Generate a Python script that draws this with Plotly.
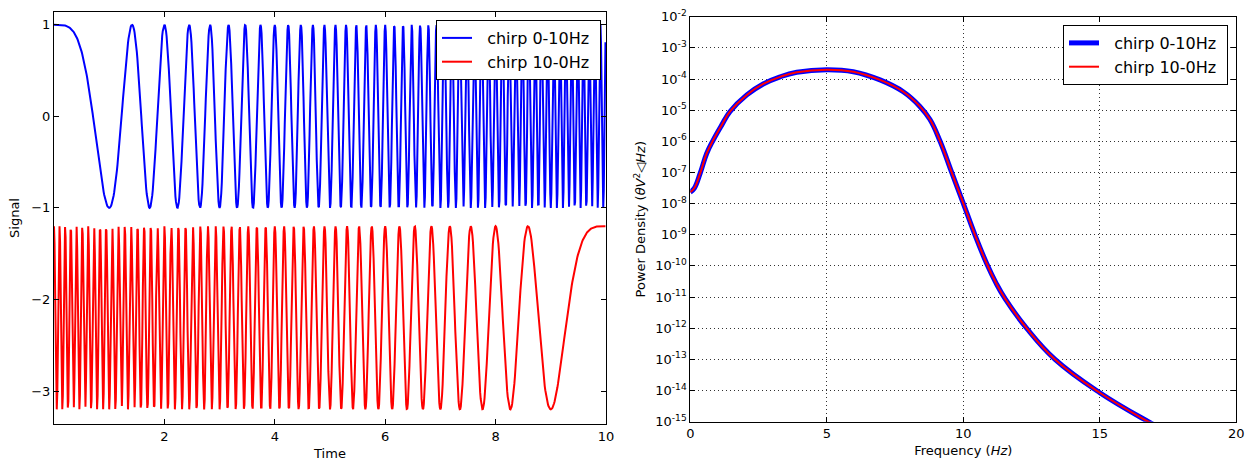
import numpy as np
import plotly.graph_objects as go

# ---------------- data ----------------
# Left panel: linear chirps (legend: 0-10 Hz and 10-0 Hz over 10 s)
sample_rate_hz = 100
duration_s = 10
chirp_up_f0, chirp_up_f1 = 0.0, 10.0
chirp_down_f0, chirp_down_f1 = 10.0, 0.0
chirp_down_offset = -2.2

# Right panel: power spectral density (log10 values)
psd_freq = [0.0, 0.15, 0.36, 0.6, 0.84, 1.15, 1.45, 2.07, 2.67, 3.29, 3.9, 5.0,
            5.97, 6.95, 7.8, 8.41, 8.78, 9.15, 9.575, 10.0, 10.43, 10.86, 11.2,
            11.53, 12.32, 13.36, 15.0, 16.78, 17.2]
psd_log10 = [-7.63, -7.5, -7.03, -6.39, -5.96, -5.48, -5.05, -4.51, -4.16, -3.93,
             -3.785, -3.70, -3.765, -4.03, -4.41, -4.88, -5.3, -6.0, -7.0, -7.99,
             -9.01, -9.93, -10.55, -11.05, -12.0, -13.0, -14.07, -15.0, -15.2]

left_xticks = [2, 4, 6, 8, 10]
left_yticks = [1, 0, -1, -2, -3]
right_xticks = [0, 5, 10, 15, 20]
right_ydecades = list(range(-2, -16, -1))

# ---------------- signals ----------------
t = np.arange(0, duration_s, 1.0 / sample_rate_hz)


def linear_chirp(time, f0, f1, T):
    k = (f1 - f0) / T
    return np.cos(2 * np.pi * (f0 * time + 0.5 * k * time ** 2))


sig_up = linear_chirp(t, chirp_up_f0, chirp_up_f1, duration_s)
sig_down = linear_chirp(t, chirp_down_f0, chirp_down_f1, duration_s) + chirp_down_offset
psd_vals = [10 ** v for v in psd_log10]

FONT = "DejaVu Sans"
W, H = 1247, 461
PAD = "&nbsp;&nbsp;"

fig = go.Figure()
fig.add_trace(go.Scatter(x=t, y=sig_up, mode="lines", name=PAD + "chirp 0-10Hz&nbsp;",
                         line=dict(color="#0000ff", width=2), xaxis="x", yaxis="y",
                         legend="legend"))
fig.add_trace(go.Scatter(x=t, y=sig_down, mode="lines", name=PAD + "chirp 10-0Hz&nbsp;",
                         line=dict(color="#ff0000", width=2), xaxis="x", yaxis="y",
                         legend="legend"))
fig.add_trace(go.Scatter(x=psd_freq, y=psd_vals, mode="lines", name=PAD + "chirp 0-10Hz&nbsp;",
                         line=dict(color="#0000ff", width=5, shape="spline", smoothing=1.2),
                         xaxis="x2", yaxis="y2", legend="legend2"))
fig.add_trace(go.Scatter(x=psd_freq, y=psd_vals, mode="lines", name=PAD + "chirp 10-0Hz&nbsp;",
                         line=dict(color="#ff0000", width=2, shape="spline", smoothing=1.2),
                         xaxis="x2", yaxis="y2", legend="legend2"))

axis_common = dict(showline=True, linecolor="black", linewidth=1, mirror="ticks",
                   ticks="inside", ticklen=5, tickcolor="black", zeroline=False,
                   tickfont=dict(family=FONT, size=13, color="black"), automargin=False)

fig.update_layout(
    width=W, height=H,
    margin=dict(l=0, r=0, t=0, b=0),
    paper_bgcolor="white", plot_bgcolor="white",
    font=dict(family=FONT, size=13, color="black"),
    xaxis=dict(domain=[54 / W, 606 / W], range=[0, 10], anchor="y",
               tickvals=left_xticks, showgrid=False,
               title=dict(text="Time", font=dict(family=FONT, size=13), standoff=6),
               **axis_common),
    yaxis=dict(domain=[1 - 424 / H, 1 - 12 / H], range=[-3.36, 1.14], anchor="x",
               tickvals=left_yticks, showgrid=False,
               title=dict(text="Signal", font=dict(family=FONT, size=13), standoff=8),
               **axis_common),
    xaxis2=dict(domain=[690.3 / W, 1236.3 / W], range=[0, 20], anchor="y2",
                tickvals=right_xticks, showgrid=True, gridcolor="#333333", gridwidth=1,
                griddash="1px,3px",
                title=dict(text="Frequency (<i>Hz</i>)", font=dict(family=FONT, size=13), standoff=5),
                **axis_common),
    yaxis2=dict(domain=[1 - 421.7 / H, 1 - 16.7 / H], type="log", range=[-15, -2], anchor="x2",
                tickvals=[10 ** d for d in right_ydecades],
                ticktext=["10<sup>%d</sup>" % d for d in right_ydecades],
                showgrid=True, gridcolor="#333333", gridwidth=1, griddash="1px,3px",
                title=dict(text="Power Density (<i>θV</i><sup>2</sup><i>◁Hz</i>)",
                           font=dict(family=FONT, size=13), standoff=6),
                **axis_common),
    legend=dict(x=601 / W, y=1 - 20 / H, xanchor="right", yanchor="top",
                bgcolor="white", bordercolor="black", borderwidth=1,
                font=dict(family=FONT, size=16, color="black"), tracegroupgap=0),
    legend2=dict(x=1228 / W, y=1 - 25 / H, xanchor="right", yanchor="top",
                 bgcolor="white", bordercolor="black", borderwidth=1,
                 font=dict(family=FONT, size=16, color="black"), tracegroupgap=0),
)

fig.write_html("out.html")
